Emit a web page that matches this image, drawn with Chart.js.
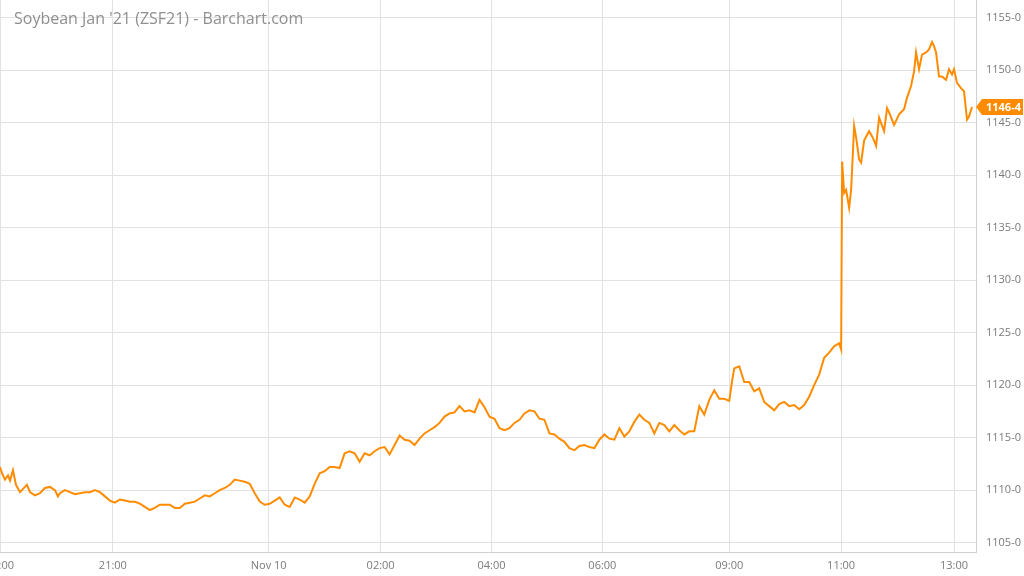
<!DOCTYPE html>
<html>
<head>
<meta charset="utf-8">
<script src="https://cdn.jsdelivr.net/npm/chart.js@4.4.1/dist/chart.umd.min.js"></script>
<style>
  html, body { margin: 0; padding: 0; background: #fff; }
  #wrap { position: relative; width: 1024px; height: 576px; overflow: hidden; }
  #title {
    position: absolute; left: 14px; top: 7px;
    font: 16px "Open Sans", sans-serif; color: #8f8f8f;
    pointer-events: none;
  }
</style>
</head>
<body>
<div id="wrap">
  <canvas id="chart"></canvas>
  <div id="title">Soybean Jan '21 (ZSF21) - Barchart.com</div>
</div>
<script>
/* ================= DATA ================= */

// bar number in the session (roughly one bar per minute of trading)
const bars = [
  0, 2, 5, 8, 10, 13, 16, 20, 25, 27, 30, 35, 40, 45, 50, 55, 58, 60, 65, 70,
  75, 80, 85, 90, 95, 100, 105, 110, 115, 120, 125, 130, 135, 140, 145, 150, 155, 160, 165, 170,
  175, 180, 185, 190, 195, 200, 205, 210, 215, 220, 225, 230, 235, 240, 245, 250, 255, 260, 265, 270,
  275, 280, 285, 290, 295, 300, 305, 310, 315, 320, 325, 330, 335, 340, 345, 350, 355, 360, 365, 370,
  375, 380, 385, 390, 395, 400, 405, 410, 415, 420, 425, 430, 435, 440, 445, 450, 455, 460, 465, 470,
  475, 480, 485, 490, 495, 500, 505, 510, 515, 520, 525, 530, 535, 540, 545, 550, 555, 560, 565, 570,
  575, 580, 585, 590, 595, 600, 605, 610, 615, 620, 625, 630, 635, 640, 645, 650, 655, 660, 665, 670,
  675, 680, 685, 690, 695, 700, 705, 710, 715, 720, 725, 730, 733, 735, 740, 745, 750, 755, 760, 765,
  770, 775, 780, 785, 790, 795, 800, 805, 810, 815, 820, 825, 830, 835, 840, 842, 843, 845, 847, 850,
  852, 855, 857, 860, 862, 865, 870, 873, 875, 877, 880, 885, 888, 890, 895, 900, 905, 908, 912, 915,
  917, 920, 923, 927, 930, 933, 935, 937, 940, 943, 947, 950, 953, 955, 958, 962, 965, 968, 970, 973
];

// last price (cents/bushel)
const prices = [
  1112.2, 1111.6, 1111.0, 1111.4, 1110.9, 1111.9, 1110.5, 1109.8, 1110.3, 1110.5, 1109.8, 1109.5, 1109.7, 1110.2, 1110.3, 1110.0, 1109.4, 1109.7, 1110.0, 1109.8,
  1109.6, 1109.7, 1109.8, 1109.8, 1110.0, 1109.8, 1109.4, 1109.0, 1108.8, 1109.1, 1109.0, 1108.9, 1108.9, 1108.7, 1108.4, 1108.1, 1108.3, 1108.6, 1108.6, 1108.6,
  1108.3, 1108.3, 1108.7, 1108.8, 1108.9, 1109.2, 1109.5, 1109.4, 1109.7, 1110.0, 1110.2, 1110.5, 1111.0, 1110.9, 1110.8, 1110.6, 1109.7, 1108.9, 1108.6, 1108.7,
  1109.0, 1109.3, 1108.6, 1108.4, 1109.3, 1109.1, 1108.8, 1109.4, 1110.6, 1111.6, 1111.8, 1112.2, 1112.2, 1112.1, 1113.5, 1113.7, 1113.5, 1112.7, 1113.5, 1113.3,
  1113.7, 1114.0, 1114.1, 1113.4, 1114.3, 1115.2, 1114.8, 1114.7, 1114.3, 1114.9, 1115.4, 1115.7, 1116.0, 1116.4, 1117.0, 1117.3, 1117.4, 1118.0, 1117.5, 1117.6,
  1117.4, 1118.6, 1117.9, 1117.0, 1116.8, 1115.9, 1115.7, 1115.9, 1116.4, 1116.7, 1117.3, 1117.6, 1117.5, 1116.8, 1116.7, 1115.4, 1115.3, 1114.9, 1114.6, 1114.0,
  1113.8, 1114.2, 1114.3, 1114.1, 1114.0, 1114.8, 1115.3, 1114.9, 1114.8, 1115.9, 1115.1, 1115.6, 1116.5, 1117.2, 1116.7, 1116.4, 1115.4, 1116.4, 1116.2, 1115.6,
  1116.2, 1115.7, 1115.3, 1115.6, 1115.6, 1118.0, 1117.2, 1118.6, 1119.5, 1118.7, 1118.7, 1118.5, 1120.5, 1121.6, 1121.8, 1120.3, 1120.3, 1119.4, 1119.7, 1118.4,
  1118.0, 1117.6, 1118.2, 1118.4, 1118.0, 1118.1, 1117.7, 1118.1, 1118.9, 1120.0, 1121.0, 1122.6, 1123.1, 1123.7, 1124.0, 1123.4, 1141.3, 1138.3, 1138.6, 1136.9,
  1138.6, 1144.7, 1143.6, 1141.5, 1141.2, 1143.3, 1144.2, 1143.7, 1143.3, 1142.8, 1145.5, 1144.2, 1146.4, 1146.0, 1144.8, 1145.8, 1146.3, 1147.4, 1148.5, 1149.9,
  1151.7, 1150.1, 1151.5, 1151.7, 1152.0, 1152.7, 1152.3, 1151.7, 1149.4, 1149.4, 1149.1, 1150.1, 1149.6, 1150.1, 1148.8, 1148.3, 1148.0, 1145.3, 1145.6, 1146.5
];

// time axis labels and the bar they sit on
const timeLabels = ['19:00', '21:00', 'Nov 10', '02:00', '04:00', '06:00', '09:00', '11:00', '13:00'];
const timeBars = [0, 113, 269, 381, 492, 603, 730, 842, 955];

// price axis
const priceTicks = [1105, 1110, 1115, 1120, 1125, 1130, 1135, 1140, 1145, 1150, 1155];
const priceMin = 1104.1;
const priceMax = 1156.7;
const lastBar = 977;

/* ================= HELPERS ================= */

// grain prices are quoted in eighths: 1146.5 -> "1146-4"
function fmtPrice(v) {
  const whole = Math.floor(v);
  const eighths = Math.round((v - whole) * 8);
  return whole + '-' + eighths;
}

const ORANGE = '#ff8c00';

// orange flag with the last price on the right axis
const lastTag = {
  id: 'lastTag',
  afterDraw(chart) {
    const ctx = chart.ctx;
    const last = prices[prices.length - 1];
    const y = chart.scales.y.getPixelForValue(last);
    const x = chart.chartArea.right;
    ctx.save();
    ctx.fillStyle = ORANGE;
    ctx.beginPath();
    ctx.moveTo(x, y);
    ctx.lineTo(x + 6, y - 8);
    ctx.lineTo(x + 47, y - 8);
    ctx.lineTo(x + 47, y + 8);
    ctx.lineTo(x + 6, y + 8);
    ctx.closePath();
    ctx.fill();
    ctx.fillStyle = '#fff';
    ctx.font = 'bold 11px "Open Sans"';
    ctx.textAlign = 'left';
    ctx.textBaseline = 'middle';
    ctx.fillText(fmtPrice(last), x + 10, y + 0.5);
    ctx.restore();
  }
};

/* ================= CHART ================= */

new Chart(document.getElementById('chart'), {
  type: 'line',
  data: {
    datasets: [{
      label: 'ZSF21',
      data: bars.map((b, i) => ({ x: b, y: prices[i] })),
      borderColor: ORANGE,
      borderWidth: 2,
      pointRadius: 0,
      tension: 0,
      fill: false
    }]
  },
  options: {
    responsive: true,
    maintainAspectRatio: false,
    animation: false,
    layout: { padding: 0 },
    plugins: {
      legend: { display: false },
      tooltip: { enabled: false }
    },
    scales: {
      x: {
        type: 'linear',
        min: 0,
        max: lastBar,
        afterBuildTicks: s => { s.ticks = timeBars.map(v => ({ value: v })); },
        afterFit: s => { s.height = 24; s.paddingLeft = 0; s.paddingRight = 0; },
        ticks: {
          autoSkip: false,
          maxRotation: 0,
          padding: 7,
          color: '#7a7a7a',
          font: { family: 'Open Sans', size: 11 },
          callback: (v) => timeLabels[timeBars.indexOf(v)]
        },
        grid: { color: '#e2e2e2', drawTicks: false },
        border: { color: '#d0d0d0' }
      },
      y: {
        position: 'right',
        min: priceMin,
        max: priceMax,
        afterBuildTicks: s => { s.ticks = priceTicks.map(v => ({ value: v })); },
        afterFit: s => { s.width = 48; s.paddingTop = 0; s.paddingBottom = 0; },
        ticks: {
          padding: 10,
          color: '#7a7a7a',
          font: { family: 'Open Sans', size: 11 },
          callback: v => fmtPrice(v)
        },
        grid: { color: '#e2e2e2', drawTicks: false },
        border: { color: '#d0d0d0' }
      }
    }
  },
  plugins: [lastTag]
});
</script>
</body>
</html>
